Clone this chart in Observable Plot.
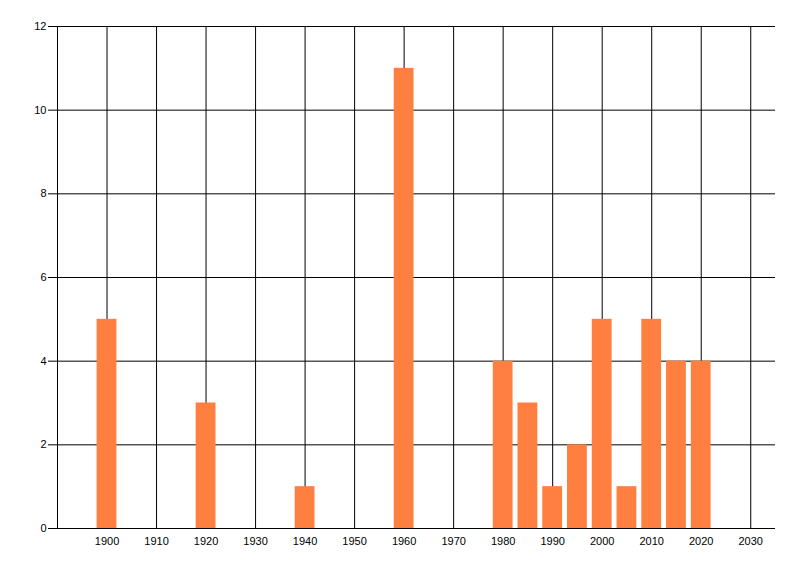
<!DOCTYPE html>
<html>
<head>
<meta charset="utf-8">
<script src="https://cdn.jsdelivr.net/npm/d3@7"></script>
<script src="https://cdn.jsdelivr.net/npm/@observablehq/plot@0.6"></script>
<style>
  html, body { margin: 0; padding: 0; background: #fff; }
  #chart svg { display: block; }
</style>
</head>
<body>
<div id="chart"></div>
<script>
const years  = [1900, 1920, 1940, 1960, 1980, 1985, 1990, 1995, 2000, 2005, 2010, 2015, 2020];
const counts = [5, 3, 1, 11, 4, 3, 1, 2, 5, 1, 5, 4, 4];
const xTicks = [1900, 1910, 1920, 1930, 1940, 1950, 1960, 1970, 1980, 1990, 2000, 2010, 2020, 2030];
const yTicks = [0, 2, 4, 6, 8, 10, 12];
const xDomain = [1890, 2035];
const yDomain = [0, 12];
const barHalfWidth = 2;

const data = years.map((y, i) => ({year: y, value: counts[i]}));

const chart = Plot.plot({
  width: 800,
  height: 576,
  marginLeft: 57,
  marginRight: 25,
  marginTop: 26,
  marginBottom: 48,
  style: {fontFamily: "'Liberation Sans', Arial, sans-serif", fontSize: "11px", color: "#000", background: "#fff"},
  x: {domain: xDomain},
  y: {domain: yDomain},
  marks: [
    Plot.ruleX(xTicks, {stroke: "#000", strokeWidth: 1}),
    Plot.ruleX([xDomain[0]], {stroke: "#000", strokeWidth: 1}),
    Plot.ruleY(yTicks, {stroke: "#000", strokeWidth: 1}),
    Plot.rectY(data, {
      x1: d => d.year - barHalfWidth,
      x2: d => d.year + barHalfWidth,
      y1: 0,
      y2: "value",
      fill: "#FF7F40",
      inset: 0
    }),
    Plot.axisY({ticks: yTicks, tickSize: 9, tickPadding: 2, tickFormat: d => String(d), label: null, stroke: "#000"}),
    Plot.axisX({ticks: xTicks, tickSize: 0, tickPadding: 9, tickFormat: d => String(d), label: null})
  ]
});
document.getElementById("chart").appendChild(chart);
</script>
</body>
</html>
